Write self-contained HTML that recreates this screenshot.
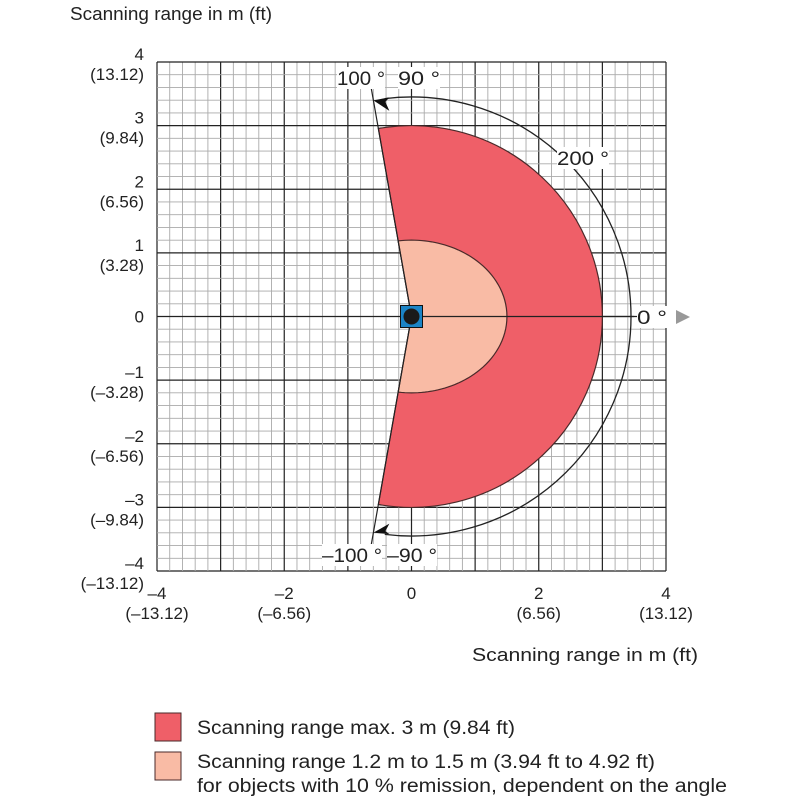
<!DOCTYPE html>
<html><head><meta charset="utf-8"><style>
body{margin:0;background:#fff;}
svg{display:block;font-family:"Liberation Sans",sans-serif;}
</style></head><body>
<svg id="chart" width="800" height="800"></svg>
<script>
const xTicks=[-4,-2,0,2,4];
const xTickFt=["(–13.12)","(–6.56)","","(6.56)","(13.12)"];
const yTicks=[4,3,2,1,0,-1,-2,-3,-4];
const yTickFt=["(13.12)","(9.84)","(6.56)","(3.28)","","(–3.28)","(–6.56)","(–9.84)","(–13.12)"];
const maxRange=[3];
const innerRange=[1.5,1.2];
const scanAngles=[-100,100];
const arcRadius=[3.45];

const NS="http://www.w3.org/2000/svg";
const svg=document.getElementById('chart');
const X0=157,X1=666,Y0=62,Y1=571;
function sx(v){return X0+(v+4)/8*(X1-X0);}
function sy(v){return Y1-(v+4)/8*(Y1-Y0);}
function mk(t,a,p){const e=document.createElementNS(NS,t);for(const k in a)e.setAttribute(k,a[k]);(p||svg).appendChild(e);return e;}
function rad(d){return d*Math.PI/180;}
const PX=(X1-X0)/8;

const grid=mk('g',{});


for(let i=0;i<=40;i++){
  const v=-4+i*0.2, major=i%10===0?2:(i%5===0?1:0);
  const c=major?'#222':'#aaa', w=major?1.2:0.9;
  mk('line',{x1:sx(v),x2:sx(v),y1:Y0,y2:Y1,stroke:c,'stroke-width':w},grid);
  mk('line',{x1:X0,x2:X1,y1:sy(v),y2:sy(v),stroke:c,'stroke-width':w},grid);
}
const a0=rad(scanAngles[0]),a1=rad(scanAngles[1]),R=maxRange[0];
const outer=mk('path',{d:`M${sx(0)},${sy(0)} L${sx(R*Math.cos(a0))},${sy(R*Math.sin(a0))} A${R*PX},${R*PX} 0 1 0 ${sx(R*Math.cos(a1))},${sy(R*Math.sin(a1))} Z`,fill:'#ef5f68',stroke:'#4a2a2a','stroke-width':1.2});


let d=`M${sx(0)},${sy(0)}`;
for(let i=0;i<=80;i++){
  const a=a0+(a1-a0)*i/80;
  const r=1/Math.sqrt(Math.pow(Math.cos(a)/innerRange[0],2)+Math.pow(Math.sin(a)/innerRange[1],2));
  d+=` L${sx(r*Math.cos(a))},${sy(r*Math.sin(a))}`;
}
d+='Z';
const inner=mk('path',{d:d,fill:'#f9bba5',stroke:'#4a2a2a','stroke-width':1.2});


const AR=arcRadius[0], rp=AR*PX;
for(const ang of scanAngles){
  const a=rad(ang), r2=AR+0.35;
  const l=mk('line',{x1:sx(0),y1:sy(0),x2:sx(r2*Math.cos(a)),y2:sy(r2*Math.sin(a)),stroke:'#222','stroke-width':1.2});
  
  
}
mk('line',{x1:sx(0),y1:sy(0),x2:sx(AR+0.05),y2:sy(0),stroke:'#222','stroke-width':1.2});
const ea0=rad(scanAngles[0]+3), ea1=rad(scanAngles[1]-3);
const arc=mk('path',{d:`M${sx(AR*Math.cos(ea0))},${sy(AR*Math.sin(ea0))} A${rp},${rp} 0 1 0 ${sx(AR*Math.cos(ea1))},${sy(AR*Math.sin(ea1))}`,fill:'none',stroke:'#222','stroke-width':1.3});


for(const ang of scanAngles){
  const a=rad(ang),x=sx(AR*Math.cos(a)),y=sy(AR*Math.sin(a));
  const dy=ang>0?3:-3;
  mk('path',{d:`M${x},${y} l16,${-6+dy} l-4,${6-dy/2} l4,${6+dy} z`,fill:'#111'});
}
const sensor=mk('g',{});


mk('rect',{x:sx(0)-11,y:sy(0)-11,width:22,height:22,fill:'#1b84c6',stroke:'#111'},sensor);
mk('circle',{cx:sx(0),cy:sy(0),r:8,fill:'#1a1a1a'},sensor);
function lbl(t,x,y,anchor,name,sz,bg,len){
  const w=len||t.length*sz*0.55;
  if(bg){mk('rect',{x:anchor==='end'?x-w:(anchor==='middle'?x-w/2:x),y:y-sz+1,width:w,height:sz+3,fill:'#fff'});}
  const at={x:x,y:y,'text-anchor':anchor,'font-size':sz,fill:'#222'};
  if(len){at.textLength=len;at.lengthAdjust='spacingAndGlyphs';}
  const e=mk('text',at);e.textContent=t;
  
  
  return e;
}
lbl('100 °',385,85,'end','angle-label-100',19,true,48);
lbl('90 °',398,85,'start','angle-label-90',19,true,42);
lbl('200 °',583,165,'middle','angle-label-200',19,true,52);
lbl('0 °',637,324,'start','angle-label-0',19,true,30);
lbl('–100 °',382,562,'end','angle-label-minus100',19,true,60);
lbl('–90 °',387,562,'start','angle-label-minus90',19,true,50);
mk('path',{d:'M676,310 l14,7 l-14,7 z',fill:'#999'});
xTicks.forEach((v,i)=>{
  lbl(String(v).replace('-','–'),sx(v),599,'middle','x-tick-label',17);
  if(xTickFt[i])lbl(xTickFt[i],sx(v),619,'middle','x-tick-label-ft',17);
});
yTicks.forEach((v,i)=>{
  if(yTickFt[i]){lbl(String(v).replace('-','–'),144,sy(v)-2,'end','y-tick-label',17);lbl(yTickFt[i],144,sy(v)+18,'end','y-tick-label-ft',17);}
  else lbl(String(v),144,sy(v)+6,'end','y-tick-label',17);
});
lbl('Scanning range in m (ft)',70,20,'start','y-axis-title',18,false,202);
lbl('Scanning range in m (ft)',698,661,'end','x-axis-title',18,false,226);
const lg=mk('g',{});


mk('rect',{x:155,y:713,width:26,height:28,fill:'#ef5f68',stroke:'#4a2a2a'},lg);
mk('rect',{x:155,y:752,width:26,height:28,fill:'#f9bba5',stroke:'#4a2a2a'},lg);
lbl('Scanning range max. 3 m (9.84 ft)',197,734,'start','legend-entry-max',19,false,318);
lbl('Scanning range 1.2 m to 1.5 m (3.94 ft to 4.92 ft)',197,768,'start','legend-entry-remission',19,false,458);
lbl('for objects with 10 % remission, dependent on the angle',197,792,'start','legend-entry-remission-note',19,false,530);
</script>
</body></html>
